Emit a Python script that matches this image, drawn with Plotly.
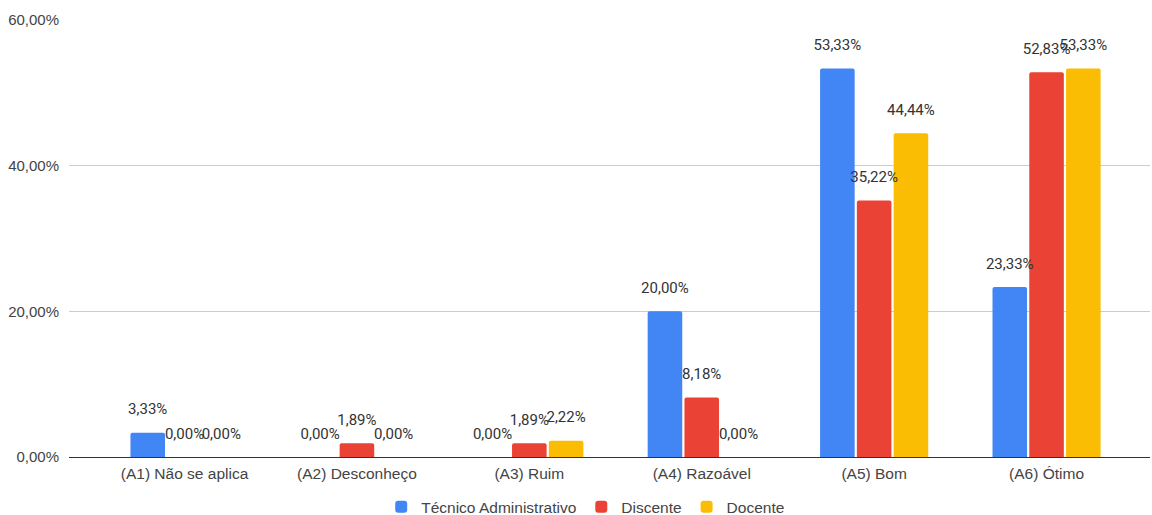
import plotly.graph_objects as go

categories = ["(A1) Não se aplica", "(A2) Desconheço", "(A3) Ruim", "(A4) Razoável", "(A5) Bom", "(A6) Ótimo"]
series_names = ["Técnico Administrativo", "Discente", "Docente"]
tecnico = [3.33, 0.00, 0.00, 20.00, 53.33, 23.33]
discente = [0.00, 1.89, 1.89, 8.18, 35.22, 52.83]
docente = [0.00, 0.00, 2.22, 0.00, 44.44, 53.33]
colors = ["#4285F4", "#EA4335", "#FBBC04"]
y_ticks = [0, 20, 40, 60]
y_ticklabels = [f"{v:.2f}".replace(".", ",") + "%" for v in y_ticks]

AX_FONT = "Arial, 'Liberation Sans', sans-serif"
LBL_FONT = "Roboto, Arial, sans-serif"
fig = go.Figure()
for i, (name, vals, col) in enumerate(zip(series_names, [tecnico, discente, docente], colors)):
    fig.add_trace(go.Bar(
        x=categories, y=vals, name=name,
        marker=dict(color=col, line=dict(width=0)),
        offsetgroup=str(i),
    ))
for i, (name, vals) in enumerate(zip(series_names, [tecnico, discente, docente])):
    fig.add_trace(go.Scatter(
        x=categories, y=vals, name=name + " rótulos",
        mode="markers+text",
        marker=dict(size=22, color="rgba(0,0,0,0)"),
        text=[f"{v:.2f}".replace(".", ",") + "%" for v in vals],
        textposition="top center",
        textfont=dict(family=LBL_FONT, size=15, color="#333333"),
        offsetgroup=str(i), orientation="v",
        cliponaxis=False, showlegend=False, hoverinfo="skip",
    ))

fig.update_layout(
    width=1152, height=515,
    margin=dict(l=69, r=2, t=20, b=58, autoexpand=False),
    paper_bgcolor="white", plot_bgcolor="white",
    separators=",.",
    barmode="group", bargap=0.36, bargroupgap=0.06,
    scattermode="group", scattergap=0.36,
    barcornerradius=2,
    font=dict(family=AX_FONT, size=15, color="#444444"),
    showlegend=True,
    legend=dict(orientation="h", x=0.478, xanchor="center", y=-0.076, yanchor="top",
                font=dict(family=AX_FONT, size=15.5, color="#444444"), itemwidth=30),
    xaxis=dict(range=[-0.67, 5.6], showgrid=False, ticks="", showline=False, automargin=False,
               ticklabelstandoff=5,
               tickfont=dict(family=AX_FONT, size=15.5, color="#444444")),
    yaxis=dict(range=[0, 60], tickvals=y_ticks, ticktext=y_ticklabels, automargin=False,
               showgrid=True, gridcolor="#cccccc", gridwidth=1,
               zeroline=True, zerolinecolor="#333333", zerolinewidth=1,
               ticks="", ticklabelstandoff=9,
               tickfont=dict(family=AX_FONT, size=15, color="#444444")),
)
fig.write_html("out.html", config={"displayModeBar": False},
               post_script="document.body.style.margin='0';")
